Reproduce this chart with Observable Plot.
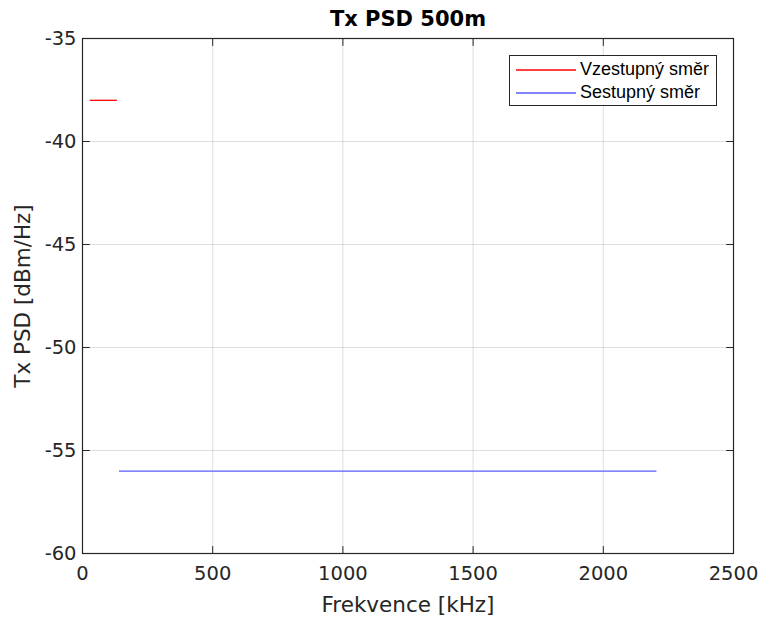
<!DOCTYPE html>
<html>
<head>
<meta charset="utf-8">
<script src="https://cdn.jsdelivr.net/npm/d3@7"></script>
<script src="https://cdn.jsdelivr.net/npm/@observablehq/plot@0.6"></script>
<style>
  body { margin: 0; background: #fff; }
  #wrap { position: relative; width: 766px; height: 618px; }
  #legend {
    position: absolute; left: 509px; top: 55px; width: 206px; height: 49px;
    border: 1px solid #262626; background: #fff;
    font-family: "Liberation Sans", Arial, sans-serif; font-size: 18px; color: #000;
  }
  .row { position: absolute; left: 6px; height: 23px; display: flex; align-items: center; white-space: nowrap; }
  .row svg { margin-right: 4px; }
</style>
</head>
<body>
<div id="wrap"><div id="legend"></div></div>
<script>
const title = "Tx PSD 500m";
const xLabel = "Frekvence [kHz]";
const yLabel = "Tx PSD [dBm/Hz]";
const series = ["Vzestupný směr", "Sestupný směr"];
const freqStart = [30, 142];
const freqEnd = [134, 2206];
const psd = [-38, -56];
const colors = ["#ff0000", "#5a5aff"];
const xTicks = [0, 500, 1000, 1500, 2000, 2500];
const yTicks = [-60, -55, -50, -45, -40, -35];

const data = series.map((s, i) => ({series: s, f1: freqStart[i], f2: freqEnd[i], psd: psd[i]}));

const ink = "#262626";
const tickShape = {draw(context, l) { context.moveTo(0, 0); context.lineTo(0, -l); }};
const tickOpts = {length: 7, anchor: "start", shape: tickShape, stroke: ink, strokeWidth: 1};

const chart = Plot.plot({
  width: 766,
  height: 618,
  marginLeft: 82,
  marginTop: 38,
  marginRight: 33,
  marginBottom: 65,
  style: {fontFamily: "'DejaVu Sans', sans-serif", fontSize: "19.5px", color: ink, background: "#fff"},
  x: {domain: [0, 2500]},
  y: {domain: [-60, -35]},
  color: {domain: series, range: colors},
  marks: [
    Plot.gridX(xTicks, {stroke: ink, strokeOpacity: 0.15}),
    Plot.gridY(yTicks, {stroke: ink, strokeOpacity: 0.15}),
    Plot.ruleY(data, {y: "psd", x1: "f1", x2: "f2", stroke: "series", strokeWidth: 1.3}),
    Plot.frame({stroke: ink, strokeWidth: 1.2}),
    Plot.vector(xTicks, {x: d => d, frameAnchor: "bottom", rotate: 0, ...tickOpts}),
    Plot.vector(xTicks, {x: d => d, frameAnchor: "top", rotate: 180, ...tickOpts}),
    Plot.vector(yTicks, {y: d => d, frameAnchor: "left", rotate: 90, ...tickOpts}),
    Plot.vector(yTicks, {y: d => d, frameAnchor: "right", rotate: -90, ...tickOpts}),
    Plot.axisX(xTicks, {tickSize: 0, tickPadding: 13, label: null, fill: ink, fontSize: 19.5, tickFormat: d => String(d)}),
    Plot.axisY(yTicks, {tickSize: 0, tickPadding: 6, label: null, fill: ink, fontSize: 19.5, tickFormat: d => String(d)}),
    Plot.text([title], {frameAnchor: "top", lineAnchor: "middle", textAnchor: "middle", dy: -19, fontWeight: "bold", fontSize: 21, fill: "#000"}),
    Plot.text([xLabel], {frameAnchor: "bottom", lineAnchor: "middle", textAnchor: "middle", dy: 52, fontSize: 21.5, fill: ink}),
    Plot.text([yLabel], {frameAnchor: "left", lineAnchor: "middle", textAnchor: "middle", dx: -59, rotate: -90, fontSize: 21.5, fill: ink})
  ]
});
document.getElementById("wrap").prepend(chart);

const legend = document.getElementById("legend");
series.forEach((s, i) => {
  const row = document.createElement("div");
  row.className = "row";
  row.style.top = (2 + i * 23) + "px";
  row.innerHTML = `<svg width="60" height="4"><line x1="0" x2="60" y1="2" y2="2" stroke="${colors[i]}" stroke-width="1.3"/></svg><span></span>`;
  row.querySelector("span").textContent = s;
  legend.appendChild(row);
});
</script>
</body>
</html>
